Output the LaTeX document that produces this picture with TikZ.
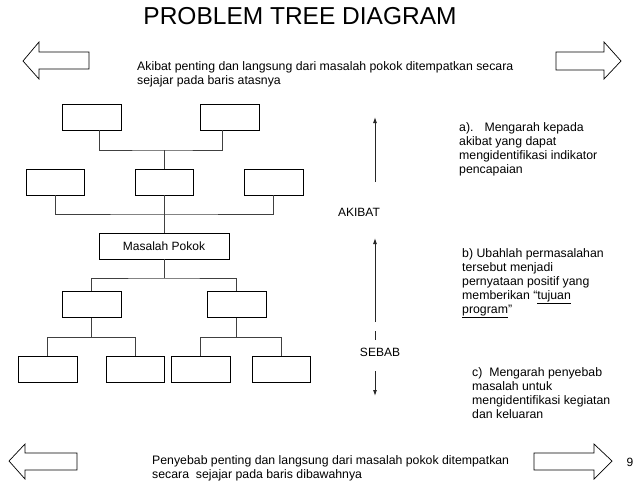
\documentclass[tikz,border=0pt]{standalone}
\usepackage{fontspec}
\setmainfont{Liberation Sans}
\usetikzlibrary{arrows.meta}
\begin{document}
\begin{tikzpicture}[x=1pt,y=-1pt,
  treebox/.style={draw=black,line width=0.9pt,minimum width=59pt,minimum height=26pt,inner sep=0pt},
  link/.style={draw=black!75,line width=0.9pt},
  bigarrow/.style={draw=black,line width=0.7pt,line join=miter},
  flow/.style={draw=black!85,line width=0.9pt,-{Latex[length=6pt,width=4pt]}},
  body/.style={font=\fontsize{12.3}{13.8}\selectfont,inner sep=0pt,align=left,anchor=base west},
  label/.style={font=\fontsize{12}{14}\selectfont,inner sep=0pt,anchor=base}]
\useasboundingbox (0,0) rectangle (636,483);

% title
\node[font=\fontsize{24.5}{28}\selectfont,inner sep=0pt,anchor=base] (title) at (300,24) {PROBLEM TREE DIAGRAM};

% block arrows pointing sideways
\draw[bigarrow] (23,61) -- (39,42) -- (39,52) -- (89,52) -- (89,69) -- (39,69) -- (39,79) -- cycle;
\draw[bigarrow] (621,61) -- (604,42) -- (604,52) -- (556,52) -- (556,70) -- (604,70) -- (604,79) -- cycle;
\draw[bigarrow] (9,461) -- (25,444) -- (25,453) -- (77,453) -- (77,470) -- (25,470) -- (25,479) -- cycle;
\draw[bigarrow] (612,461) -- (594,444) -- (594,453) -- (534,453) -- (534,470) -- (594,470) -- (594,479) -- cycle;

% multi-line texts are anchored at the baseline of their last line
\node[body] (toptext) at (137,84) {Akibat penting dan langsung dari masalah pokok ditempatkan secara\\sejajar pada baris atasnya};
\node[body] (bottext) at (152,478) {Penyebab penting dan langsung dari masalah pokok ditempatkan\\secara\ \ sejajar pada baris dibawahnya};

% effects
\node[treebox] (t1) at (91.5,117) {};
\node[treebox] (t2) at (229.5,117) {};
\node[treebox,minimum width=58pt] (m1) at (55,182) {};
\node[treebox,minimum width=58pt] (m2) at (164,182) {};
\node[treebox] (m3) at (273.5,182) {};
% core problem
\node[treebox,minimum width=130pt,font=\fontsize{12}{14}\selectfont] (mp) at (164,246) {Masalah Pokok};
% causes
\node[treebox] (c1) at (91.5,304.5) {};
\node[treebox] (c2) at (236.5,304.5) {};
\node[treebox] (d1) at (47.5,369) {};
\node[treebox,minimum width=58pt] (d2) at (135,369) {};
\node[treebox] (d3) at (200.5,369) {};
\node[treebox,minimum width=58pt] (d4) at (281,369) {};

\coordinate (jt) at (164,150);
\coordinate (jm) at (164,214);
\coordinate (jb) at (164,278);
\coordinate (j1) at (91.5,337);
\coordinate (j2) at (236.5,337);

\draw[link] ([xshift=7.5pt]t1.south) |- (jt) -| ([xshift=-7.5pt]t2.south);
\draw[link] (jt) -- (m2.north);
\draw[link] (m1.south) |- (jm) -| (m3.south);
\draw[link] (m2.south) -- (mp.north);
\draw[link] (mp.south) -- (jb);
\draw[link] (c1.north) |- (jb) -| (c2.north);
\draw[link] (c1.south) -- (j1);
\draw[link] (d1.north) |- (j1) -| (d2.north);
\draw[link] (c2.south) -- (j2);
\draw[link] (d3.north) |- (j2) -| (d4.north);

% direction markers
\node[label] (akibat) at (359,216) {AKIBAT};
\node[label] (sebab) at (380,356) {SEBAB};
\coordinate (u1a) at (375,182);
\coordinate (u1b) at (375,117);
\coordinate (u2a) at (375,322);
\coordinate (u2b) at (375,238);
\coordinate (s1) at (375,331);
\coordinate (s2) at (375,340);
\coordinate (d1a) at (375,371);
\coordinate (d1b) at (375,396);
\draw[flow] (u1a) -- (u1b);
\draw[flow] (u2a) -- (u2b);
\draw[draw=black!85,line width=0.9pt] (s1) -- (s2);
\draw[flow] (d1a) -- (d1b);

% notes
\node[body] (nota) at (459,173) {a).\hspace*{11pt}Mengarah kepada\\akibat yang dapat\\mengidentifikasi indikator\\pencapaian};
\node[body] (notb) at (462,313) {b) Ubahlah permasalahan\\tersebut menjadi\\pernyataan positif yang\\memberikan “\underline{tujuan}\\\underline{program}”};
\node[body] (notc) at (472,418) {c)\ \ Mengarah penyebab\\masalah untuk\\mengidentifikasi kegiatan\\dan keluaran};

\node[font=\fontsize{12}{14}\selectfont,inner sep=0pt,anchor=base west] (page) at (626.5,466) {9};
\end{tikzpicture}
\end{document}
